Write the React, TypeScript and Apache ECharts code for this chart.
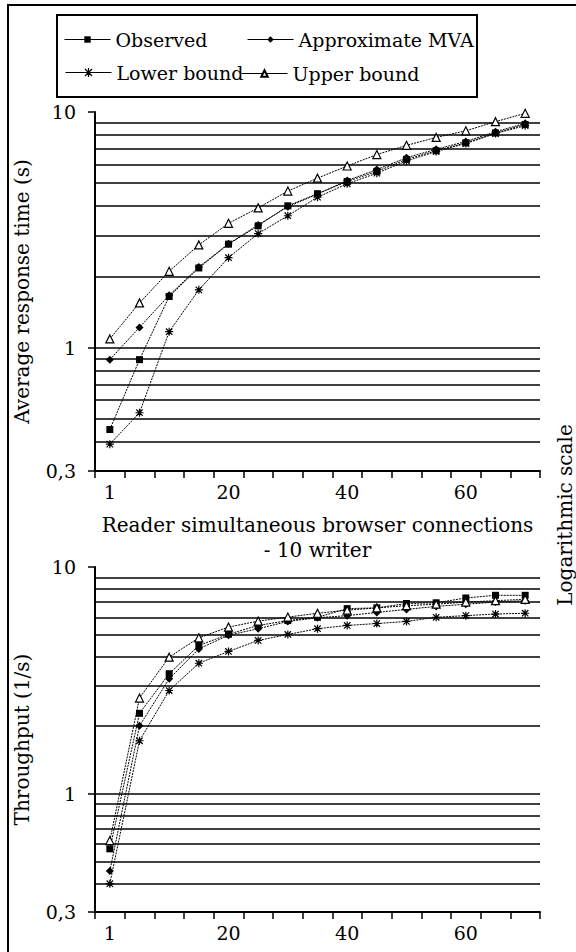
import React, { useEffect, useRef } from 'react';
import * as echarts from 'echarts';

const categories = ['1', '5', '10', '15', '20', '25', '30', '35', '40', '45', '50', '55', '60', '65', '70'];

// Average response time (s)
const observedRt = [0.45, 0.89, 1.65, 2.18, 2.75, 3.29, 4.0, 4.5, 5.07, 5.6, 6.3, 6.85, 7.4, 8.15, 8.85];
const mvaRt = [0.89, 1.22, 1.67, 2.2, 2.76, 3.32, 3.96, 4.49, 5.12, 5.7, 6.4, 6.95, 7.5, 8.25, 8.95];
const lowerRt = [0.39, 0.53, 1.17, 1.76, 2.41, 3.05, 3.63, 4.35, 4.96, 5.5, 6.2, 6.8, 7.35, 8.1, 8.75];
const upperRt = [1.09, 1.55, 2.11, 2.73, 3.37, 3.92, 4.62, 5.24, 5.9, 6.6, 7.22, 7.8, 8.32, 9.1, 9.87];

// Throughput (1/s)
const observedTp = [0.57, 2.26, 3.38, 4.5, 5.05, 5.52, 5.8, 6.0, 6.55, 6.6, 6.9, 6.95, 7.3, 7.5, 7.5];
const mvaTp = [0.455, 1.99, 3.21, 4.35, 5.0, 5.34, 5.75, 5.97, 6.1, 6.3, 6.5, 6.7, 6.85, 7.0, 7.1];
const upperTp = [0.62, 2.64, 4.0, 4.87, 5.43, 5.77, 6.01, 6.25, 6.45, 6.6, 6.75, 6.85, 7.0, 7.1, 7.2];
const lowerTp = [0.4, 1.71, 2.85, 3.76, 4.24, 4.74, 5.04, 5.34, 5.52, 5.63, 5.75, 6.0, 6.1, 6.2, 6.25];

const gridValues = [0.4, 0.5, 0.6, 0.7, 0.8, 0.9, 1, 2, 3, 4, 5, 6, 7, 8, 9];

const FONT = 'DejaVu Serif';
const ASTERISK = 'path://M5,0L5,10M1,1L9,9M9,1L1,9M0,5L10,5';

const symbolStyles: Record<string, any> = {
  Observed: { symbol: 'rect', symbolSize: 7, itemStyle: { color: '#000' } },
  'Approximate MVA': { symbol: 'diamond', symbolSize: 8, itemStyle: { color: '#000' } },
  'Lower bound': {
    symbol: ASTERISK,
    symbolSize: 8,
    itemStyle: { color: 'none', borderColor: '#000', borderWidth: 1.2 },
  },
  'Upper bound': {
    symbol: 'triangle',
    symbolSize: 8,
    itemStyle: { color: '#fff', borderColor: '#000', borderWidth: 1.2 },
  },
};

function makeSeries(name: string, data: number[], axisIndex: number, withGrid: boolean) {
  const s: any = {
    type: 'line',
    name,
    data,
    xAxisIndex: axisIndex,
    yAxisIndex: axisIndex,
    showAllSymbol: true,
    ...symbolStyles[name],
    lineStyle: { color: '#000', width: 1, type: [2, 1] },
    z: 3,
  };
  if (withGrid) {
    s.markLine = {
      silent: true,
      symbol: 'none',
      label: { show: false },
      lineStyle: { color: '#000', width: 1.5, type: 'solid' },
      data: gridValues.map((v) => ({ yAxis: v })),
      z: 1,
    };
  }
  return s;
}

function fmtY(v: number) {
  if (Math.abs(v - 0.3) < 1e-6) return '0,3';
  return String(Math.round(v));
}

export default function App() {
  const ref = useRef<HTMLDivElement>(null);
  useEffect(() => {
    const chart = echarts.init(ref.current!, null, { renderer: 'svg' });
    const tickText = { fontFamily: FONT, fontSize: 19, color: '#000' };
    const nameText = { fontFamily: FONT, fontSize: 20, color: '#000' };
    const xAxisBase = (gridIndex: number, margin: number, name?: string) => ({
      type: 'category',
      gridIndex,
      data: categories,
      boundaryGap: true,
      axisLine: { show: true, lineStyle: { color: '#000', width: 2 } },
      axisTick: { show: true, interval: 0, length: 7, lineStyle: { color: '#000', width: 1.5 } },
      axisLabel: { interval: 3, margin, ...tickText },
      splitLine: { show: false },
      name,
      nameLocation: 'middle',
      nameGap: 41,
      nameTextStyle: { ...nameText, lineHeight: 25 },
    });
    const yAxisBase = (gridIndex: number, name: string) => ({
      type: 'log',
      logBase: 10,
      gridIndex,
      min: 0.3,
      max: 10,
      axisLine: { show: true, lineStyle: { color: '#000', width: 2 } },
      axisTick: { show: true, length: 7, lineStyle: { color: '#000', width: 1.5 } },
      axisLabel: { margin: 19, formatter: fmtY, ...tickText },
      splitLine: { show: false },
      minorTick: { show: false },
      name,
      nameLocation: 'middle',
      nameRotate: 90,
      nameGap: 63,
      nameTextStyle: nameText,
    });
    const legendBase = {
      orient: 'horizontal',
      padding: 0,
      itemWidth: 46,
      itemHeight: 8,
      itemGap: 0,
      textStyle: { fontFamily: FONT, fontSize: 19, color: '#000' },
      lineStyle: { type: 'solid', width: 1, color: '#000' },
      selectedMode: false,
    };
    const option: any = {
      animation: false,
      backgroundColor: '#fff',
      textStyle: { fontFamily: FONT },
      legend: [
        { ...legendBase, left: 64, top: 30, data: ['Observed'] },
        { ...legendBase, left: 247, top: 30, data: ['Approximate MVA'] },
        {
          ...legendBase,
          left: 65,
          top: 63,
          itemHeight: 11,
          itemStyle: { color: 'none', borderColor: '#000', borderWidth: 1.2 },
          data: ['Lower bound'],
        },
        { ...legendBase, left: 241, top: 64, data: ['Upper bound'] },
      ],
      grid: [
        { left: 95, top: 112, width: 445, height: 359, containLabel: false },
        { left: 95, top: 567, width: 445, height: 345, containLabel: false },
      ],
      xAxis: [
        xAxisBase(0, 11, 'Reader simultaneous browser connections\n- 10 writer'),
        xAxisBase(1, 11),
      ],
      yAxis: [yAxisBase(0, 'Average response time (s)'), yAxisBase(1, 'Throughput (1/s)')],
      series: [
        makeSeries('Observed', observedRt, 0, true),
        makeSeries('Approximate MVA', mvaRt, 0, false),
        makeSeries('Lower bound', lowerRt, 0, false),
        makeSeries('Upper bound', upperRt, 0, false),
        makeSeries('Observed', observedTp, 1, true),
        makeSeries('Approximate MVA', mvaTp, 1, false),
        makeSeries('Lower bound', lowerTp, 1, false),
        makeSeries('Upper bound', upperTp, 1, false),
      ],
      graphic: [
        {
          type: 'rect',
          silent: true,
          z: -10,
          shape: { x: 8, y: 5, width: 620, height: 1000 },
          style: { fill: 'none', stroke: '#000', lineWidth: 2 },
        },
        {
          type: 'rect',
          silent: true,
          shape: { x: 57, y: 15, width: 420, height: 82 },
          style: { fill: 'none', stroke: '#000', lineWidth: 2 },
        },
        {
          type: 'text',
          x: 565,
          y: 515,
          rotation: Math.PI / 2,
          silent: true,
          style: {
            text: 'Logarithmic scale',
            fontFamily: FONT,
            fontSize: 20,
            fill: '#000',
            align: 'center',
            verticalAlign: 'middle',
          },
        },
      ],
    };
    chart.setOption(option);
    return () => chart.dispose();
  }, []);
  return (
    <div
      ref={ref}
      style={{ position: 'fixed', left: 0, top: 0, width: 576, height: 952, background: '#fff' }}
    />
  );
}
